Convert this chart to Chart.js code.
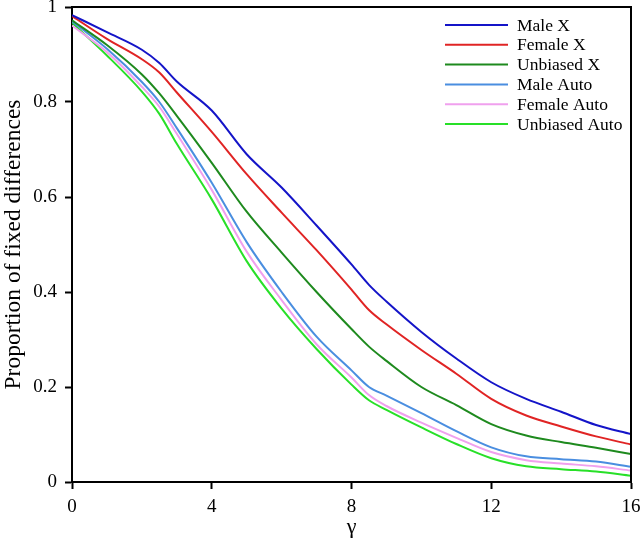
<!DOCTYPE html>
<html>
<head>
<meta charset="utf-8">
<script src="https://cdn.jsdelivr.net/npm/chart.js@4"></script>
<style>
  html, body { margin: 0; padding: 0; background: #fff; }
  #wrap { width: 640px; height: 544px; }
</style>
</head>
<body>
<div id="wrap"><canvas id="myChart" width="640" height="544"></canvas></div>
<script>
// data
const gamma = [0, 1, 2, 2.5, 3, 4, 5, 6, 7, 8, 8.5, 9, 10, 11, 12, 13, 14, 15, 16];
const maleX = [0.983, 0.947, 0.910, 0.882, 0.843, 0.782, 0.690, 0.620, 0.540, 0.458, 0.415, 0.380, 0.316, 0.260, 0.210, 0.175, 0.148, 0.120, 0.101];
const femaleX = [0.981, 0.933, 0.890, 0.862, 0.820, 0.737, 0.648, 0.567, 0.488, 0.405, 0.362, 0.332, 0.278, 0.228, 0.175, 0.140, 0.117, 0.096, 0.079];
const unbiasedX = [0.972, 0.920, 0.858, 0.818, 0.771, 0.672, 0.569, 0.483, 0.400, 0.322, 0.285, 0.255, 0.200, 0.162, 0.122, 0.098, 0.084, 0.072, 0.059];
const maleAuto = [0.970, 0.912, 0.842, 0.800, 0.745, 0.630, 0.505, 0.400, 0.306, 0.235, 0.200, 0.182, 0.145, 0.107, 0.073, 0.054, 0.048, 0.043, 0.032];
const femaleAuto = [0.961, 0.905, 0.832, 0.790, 0.733, 0.615, 0.485, 0.383, 0.290, 0.220, 0.183, 0.160, 0.125, 0.093, 0.063, 0.046, 0.039, 0.033, 0.024];
const unbiasedAuto = [0.967, 0.898, 0.822, 0.775, 0.712, 0.595, 0.465, 0.365, 0.280, 0.205, 0.172, 0.152, 0.115, 0.080, 0.050, 0.033, 0.027, 0.022, 0.013];

const seriesNames = ['Male X', 'Female X', 'Unbiased X', 'Male Auto', 'Female Auto', 'Unbiased Auto'];
const seriesValues = [maleX, femaleX, unbiasedX, maleAuto, femaleAuto, unbiasedAuto];
const seriesColors = ['#1414c8', '#e02424', '#1e8a1e', '#4a8ee0', '#f0a0ee', '#28e028'];

const xTicks = [0, 4, 8, 12, 16];
const yTicks = [0, 0.2, 0.4, 0.6, 0.8, 1];
const yTickLabels = ['0', '0.2', '0.4', '0.6', '0.8', '1'];

const serif = 'Liberation Serif';

// setup
const data = {
  datasets: seriesNames.map((name, i) => ({
    label: name,
    data: gamma.map((g, j) => ({ x: g, y: seriesValues[i][j] })),
    borderColor: seriesColors[i],
    backgroundColor: seriesColors[i],
    borderWidth: 2,
    pointRadius: 0,
    cubicInterpolationMode: 'monotone',
    fill: false
  }))
};

// box on top/right plus the legend lines
const boxAndLegend = {
  id: 'boxAndLegend',
  afterDatasetsDraw(chart) {
    const { ctx, chartArea: a } = chart;
    ctx.save();
    ctx.strokeStyle = '#000';
    ctx.lineWidth = 2;
    ctx.beginPath();
    ctx.moveTo(a.left, a.top);
    ctx.lineTo(a.right, a.top);
    ctx.lineTo(a.right, a.bottom);
    ctx.stroke();

    ctx.font = '17.5px "' + serif + '"';
    ctx.textBaseline = 'middle';
    ctx.textAlign = 'left';
    seriesNames.forEach((name, i) => {
      const y = 25 + i * 19.8;
      ctx.strokeStyle = seriesColors[i];
      ctx.lineWidth = 2;
      ctx.beginPath();
      ctx.moveTo(445, y);
      ctx.lineTo(508, y);
      ctx.stroke();
      ctx.fillStyle = '#000';
      ctx.fillText(name, 517, y + 1);
    });
    ctx.restore();
  }
};

// config
const config = {
  type: 'line',
  data,
  options: {
    responsive: false,
    animation: false,
    layout: { padding: { top: 7, right: 9, left: 0, bottom: 0 } },
    plugins: {
      legend: { display: false },
      tooltip: { enabled: false }
    },
    scales: {
      x: {
        type: 'linear',
        min: 0,
        max: 16,
        afterBuildTicks: (s) => { s.ticks = xTicks.map(v => ({ value: v })); },
        afterFit: (s) => { s.height = 62; s.paddingLeft = 0; s.paddingRight = 0; },
        border: { display: true, color: '#000', width: 2 },
        grid: { drawOnChartArea: false, drawTicks: true, tickLength: 7, tickWidth: 2, tickColor: '#000' },
        ticks: { color: '#000', padding: 7, maxRotation: 0, font: { family: serif, size: 19 } },
        title: { display: true, text: 'γ', color: '#000', padding: { top: 0, bottom: 4 }, font: { family: serif, size: 22 } }
      },
      y: {
        min: 0,
        max: 1,
        afterBuildTicks: (s) => { s.ticks = yTicks.map(v => ({ value: v })); },
        afterFit: (s) => { s.width = 72; s.paddingTop = 0; s.paddingBottom = 0; },
        border: { display: true, color: '#000', width: 2 },
        grid: { drawOnChartArea: false, drawTicks: true, tickLength: 7, tickWidth: 2, tickColor: '#000' },
        ticks: {
          color: '#000',
          padding: 8,
          font: { family: serif, size: 19 },
          callback: (v) => yTickLabels[yTicks.findIndex(t => Math.abs(t - v) < 1e-9)]
        },
        title: { display: true, text: 'Proportion of fixed differences', color: '#000', padding: { top: 0, bottom: 0 }, font: { family: serif, size: 23.5 } }
      }
    }
  },
  plugins: [boxAndLegend]
};

// render init block
const myChart = new Chart(document.getElementById('myChart'), config);
</script>
</body>
</html>
